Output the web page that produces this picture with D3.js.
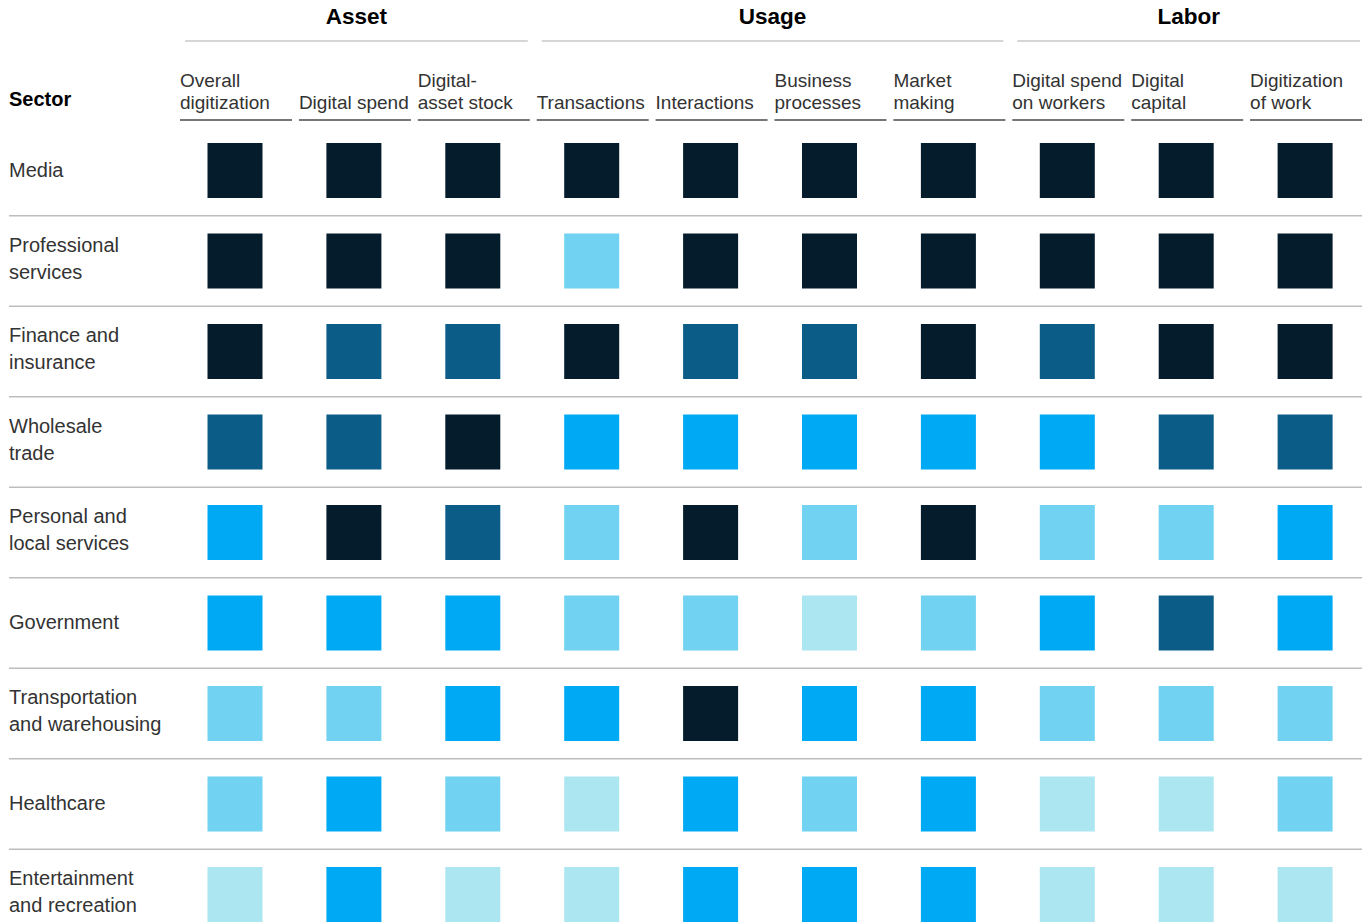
<!DOCTYPE html>
<html>
<head>
<meta charset="utf-8">
<script src="https://cdn.jsdelivr.net/npm/d3@7"></script>
<style>
  html, body { margin: 0; padding: 0; background: #fff; }
  svg { display: block; font-family: "Liberation Sans", Arial, sans-serif; }
</style>
</head>
<body>
<svg id="chart" width="1370" height="922"></svg>
<script>
// ---- DATA ----
const groups = ["Asset", "Usage", "Labor"];
const groupSizes = [3, 4, 3];
const metrics = [
  "Overall\ndigitization", "Digital spend", "Digital-\nasset stock",
  "Transactions", "Interactions", "Business\nprocesses", "Market\nmaking",
  "Digital spend\non workers", "Digital\ncapital", "Digitization\nof work"
];
const sectors = [
  "Media", "Professional\nservices", "Finance and\ninsurance", "Wholesale\ntrade",
  "Personal and\nlocal services", "Government", "Transportation\nand warehousing",
  "Healthcare", "Entertainment\nand recreation"
];
// digitization level: 5 = highest (darkest) ... 1 = lowest (palest)
const media          = [5, 5, 5, 5, 5, 5, 5, 5, 5, 5];
const professional   = [5, 5, 5, 2, 5, 5, 5, 5, 5, 5];
const finance        = [5, 4, 4, 5, 4, 4, 5, 4, 5, 5];
const wholesale      = [4, 4, 5, 3, 3, 3, 3, 3, 4, 4];
const personal       = [3, 5, 4, 2, 5, 2, 5, 2, 2, 3];
const government     = [3, 3, 3, 2, 2, 1, 2, 3, 4, 3];
const transportation = [2, 2, 3, 3, 5, 3, 3, 2, 2, 2];
const healthcare     = [2, 3, 2, 1, 3, 2, 3, 1, 1, 2];
const entertainment  = [1, 3, 1, 1, 3, 3, 3, 1, 1, 1];
const values = [media, professional, finance, wholesale, personal,
                government, transportation, healthcare, entertainment];
const levels = [1, 2, 3, 4, 5];
const levelColors = ["#ace6f0", "#71d2f1", "#00a9f4", "#0c5c88", "#051c2c"];

// ---- LAYOUT ----
const svg = d3.select("#chart");
const color = d3.scaleOrdinal().domain(levels).range(levelColors);
const x = d3.scaleBand().domain(metrics).range([180, 180 + 118.9 * metrics.length]).paddingInner(0).paddingOuter(0);
const colW = 112;
const y = d3.scaleBand().domain(sectors).range([125.25, 125.25 + 90.5 * sectors.length]);
const sq = 55;
const textCol = "#333";

// Group headers
let idx = 0;
groups.forEach((g, i) => {
  const first = metrics[idx], last = metrics[idx + groupSizes[i] - 1];
  idx += groupSizes[i];
  const x0 = x(first) + 5, x1 = x(last) + colW - 2;
  svg.append("line").attr("x1", x0).attr("x2", x1).attr("y1", 41).attr("y2", 41)
    .attr("stroke", "#c8c8c8").attr("stroke-width", 1.5);
  svg.append("text").attr("x", (x0 + x1) / 2).attr("y", 24).attr("text-anchor", "middle")
    .attr("font-size", 22.5).attr("font-weight", "bold").attr("fill", "#000").text(g);
});

// Sector header
svg.append("text").attr("x", 9).attr("y", 106).attr("font-size", 20)
  .attr("font-weight", "bold").attr("fill", "#000").text("Sector");

// Metric headers
metrics.forEach(m => {
  const lines = m.split("\n");
  const t = svg.append("text").attr("x", x(m)).attr("font-size", 19).attr("fill", textCol);
  lines.forEach((ln, j) => {
    t.append("tspan").attr("x", x(m)).attr("y", 109 - (lines.length - 1 - j) * 22.5).text(ln);
  });
  svg.append("line").attr("x1", x(m)).attr("x2", x(m) + colW).attr("y1", 120).attr("y2", 120)
    .attr("stroke", "#777").attr("stroke-width", 2);
});

// Row separators
sectors.slice(1).forEach(s => {
  svg.append("line").attr("x1", 9).attr("x2", 1362).attr("y1", y(s)).attr("y2", y(s))
    .attr("stroke", "#bdbdbd").attr("stroke-width", 1.5);
});

// Row labels
sectors.forEach(s => {
  const lines = s.split("\n");
  const cy = y(s) + y.bandwidth() / 2;
  const t = svg.append("text").attr("font-size", 20).attr("fill", textCol);
  lines.forEach((ln, j) => {
    const base = lines.length === 1 ? cy + 6 : cy + 4 + (j - 0.5) * 27;
    t.append("tspan").attr("x", 9).attr("y", base).text(ln);
  });
});

// Cells
const cells = [];
sectors.forEach((s, i) => metrics.forEach((m, j) => cells.push({ s, m, v: values[i][j] })));
svg.append("g").selectAll("rect").data(cells).join("rect")
  .attr("x", d => x(d.m) + colW / 2 - sq / 2 - 1)
  .attr("y", d => y(d.s) + y.bandwidth() / 2 - sq / 2)
  .attr("width", sq).attr("height", sq)
  .attr("fill", d => color(d.v));
</script>
</body>
</html>
